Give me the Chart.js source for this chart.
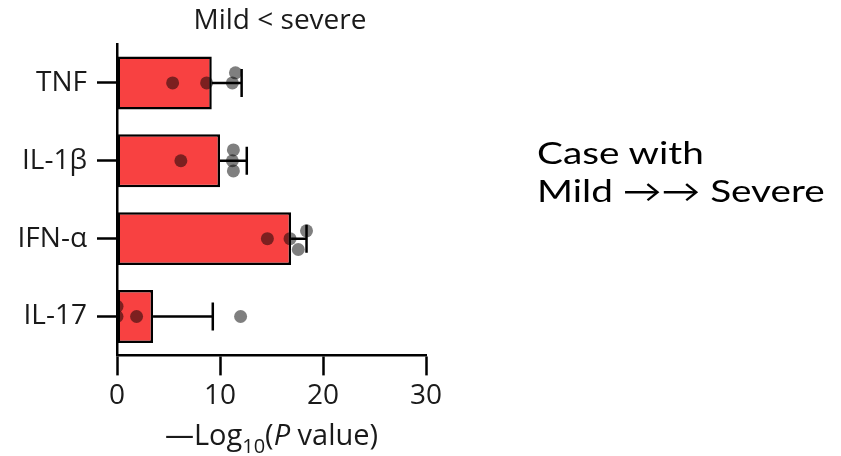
<!DOCTYPE html>
<html>
<head>
<meta charset="utf-8">
<script src="https://cdn.jsdelivr.net/npm/chart.js@4"></script>
<style>
  html, body { margin: 0; padding: 0; background: #fff; }
  #wrap { position: relative; width: 841px; height: 456px; overflow: hidden; }
  #note { position: absolute; left: 537px; top: 133px; font-family: Lato, "Open Sans", sans-serif; font-size: 31px; line-height: 38px; color: #000; transform: scaleX(1.25); transform-origin: left top; white-space: nowrap; }
</style>
</head>
<body>
<div id="wrap">
  <canvas id="c" width="841" height="456"></canvas>
  <div id="note">Case with<br>Mild &#x2192;&#x2192; Severe</div>
</div>
<script>
// ---- data ----
const categories = ["TNF", "IL-1\u03b2", "IFN-\u03b1", "IL-17"];
const barValues = [9.2, 10.0, 16.9, 3.5];
const errorUpper = [12.1, 12.6, 18.4, 9.3];
const pointsTNF = [5.4, 8.7, 11.2, 11.5];
const pointsIL1b = [6.2, 11.3, 11.2, 11.3];
const pointsIFNa = [14.6, 16.8, 17.6, 18.4];
const pointsIL17 = [0, 0, 1.9, 12.0];
const jitterTNF = [0, 0, 0, -0.13];
const jitterIL1b = [0, -0.14, 0, 0.13];
const jitterIFNa = [0, 0, 0.14, -0.1];
const jitterIL17 = [-0.13, 0, 0, 0];
const xTicks = [0, 10, 20, 30];
const title = "Mild < severe";

const pointGroups = [pointsTNF, pointsIL1b, pointsIFNa, pointsIL17];
const jitterGroups = [jitterTNF, jitterIL1b, jitterIFNa, jitterIL17];
const scatterData = [];
pointGroups.forEach((vals, i) => vals.forEach((v, j) => scatterData.push({ x: v, y: i + jitterGroups[i][j] })));
const barData = barValues.map((v, i) => ({ x: v, y: i }));

const FONT = "'Open Sans', 'Noto Sans', sans-serif";
const INK = "#1a1a1a";

const errorBars = {
  id: 'errorBars',
  afterDatasetsDraw(chart) {
    const ctx = chart.ctx, xs = chart.scales.x, ys = chart.scales.y;
    ctx.save();
    ctx.strokeStyle = '#000';
    ctx.lineWidth = 2.5;
    barValues.forEach((v, i) => {
      const y = ys.getPixelForValue(i);
      const x0 = xs.getPixelForValue(v), x1 = xs.getPixelForValue(errorUpper[i]);
      ctx.beginPath();
      ctx.moveTo(x0, y); ctx.lineTo(x1, y);
      ctx.moveTo(x1, y - 14); ctx.lineTo(x1, y + 14);
      ctx.stroke();
    });
    ctx.restore();
  }
};

const texts = {
  id: 'texts',
  afterDraw(chart) {
    const ctx = chart.ctx, a = chart.chartArea;
    ctx.save();
    ctx.fillStyle = INK;
    ctx.textBaseline = 'alphabetic';
    ctx.font = "28px " + FONT;
    ctx.textAlign = 'center';
    ctx.fillText(title, 280, 29);
    const cx = (a.left + a.right) / 2, base = 445;
    const parts = [
      { t: "\u2014Log", f: "29px " + FONT, dy: 0 },
      { t: "10", f: "20px " + FONT, dy: 8 },
      { t: "(", f: "29px " + FONT, dy: 0 },
      { t: "P", f: "italic 29px " + FONT, dy: 0 },
      { t: " value)", f: "29px " + FONT, dy: 0 }
    ];
    ctx.textAlign = 'left';
    let w = 0;
    parts.forEach(p => { ctx.font = p.f; p.w = ctx.measureText(p.t).width; w += p.w; });
    let x = cx - w / 2;
    parts.forEach(p => { ctx.font = p.f; ctx.fillText(p.t, x, base + p.dy); x += p.w; });
    ctx.restore();
  }
};

new Chart(document.getElementById('c'), {
  type: 'bar',
  data: {
    datasets: [
      {
        type: 'scatter',
        data: scatterData,
        xAxisID: 'x',
        yAxisID: 'y',
        backgroundColor: 'rgba(0,0,0,0.5)',
        borderWidth: 0,
        pointRadius: 6.5,
        order: 0
      },
      {
        type: 'bar',
        data: barData,
        xAxisID: 'x',
        yAxisID: 'y',
        grouped: false,
        backgroundColor: '#f84141',
        borderColor: '#000',
        borderWidth: 2.5,
        borderSkipped: false,
        categoryPercentage: 1,
        barPercentage: 0.68,
        order: 1
      }
    ]
  },
  options: {
    indexAxis: 'y',
    responsive: false,
    animation: false,
    layout: { padding: { left: 0, right: 415, top: 44, bottom: 39 } },
    plugins: {
      legend: { display: false },
      tooltip: { enabled: false },
      title: { display: false }
    },
    scales: {
      x: {
        type: 'linear',
        position: 'bottom',
        min: 0, max: 30,
        offset: false,
        afterBuildTicks(s) { s.ticks = xTicks.map(v => ({ value: v })); },
        border: { display: true, color: '#000', width: 2.5 },
        grid: { display: true, offset: false, drawOnChartArea: false, drawTicks: true, tickLength: 20, tickWidth: 2.5, tickColor: '#000' },
        ticks: { color: INK, font: { family: FONT, size: 28 }, padding: 4, maxRotation: 0 }
      },
      y: {
        type: 'linear',
        position: 'left',
        min: -0.5, max: 3.5,
        reverse: true,
        offset: false,
        afterBuildTicks(s) { s.ticks = categories.map((c, i) => ({ value: i })); },
        afterFit(s) { s.width = 117; },
        border: { display: true, color: '#000', width: 2.5 },
        grid: { display: true, offset: false, drawOnChartArea: false, drawTicks: true, tickLength: 20, tickWidth: 2.5, tickColor: '#000' },
        ticks: { color: INK, font: { family: FONT, size: 28 }, padding: 10, callback: (v) => categories[v] }
      }
    }
  },
  plugins: [errorBars, texts]
});
</script>
</body>
</html>
